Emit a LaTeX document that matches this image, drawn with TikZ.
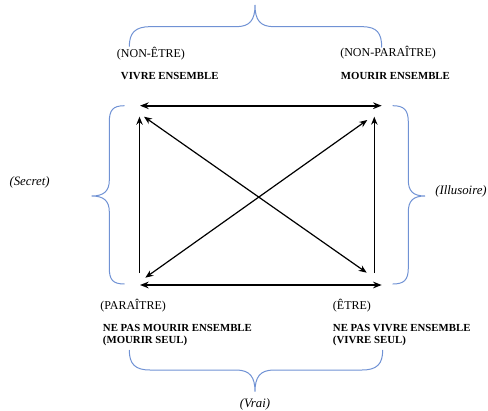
\documentclass[tikz,border=0pt]{standalone}
\usepackage{fontspec}
\setmainfont{Liberation Serif}
\usetikzlibrary{arrows.meta}
\definecolor{bracecol}{RGB}{112,146,212}
\begin{document}
\begin{tikzpicture}[x=0.75pt,y=-0.75pt,
  arr/.style={draw=black,line width=1.4pt,{Stealth[length=6.5pt,width=5pt]}-{Stealth[length=6.5pt,width=5pt]}},
  varr/.style={draw=black,line width=1.05pt,-{Stealth[length=6pt,width=4.8pt]}},
  darr/.style={draw=black,line width=0.9pt,{Stealth[length=6pt,width=4.8pt]}-{Stealth[length=6pt,width=4.8pt]}},
  brace/.style={draw=bracecol,line width=0.75pt},
  lab/.style={anchor=west,inner sep=0pt,font=\fontsize{9}{10}\selectfont},
  blab/.style={anchor=west,inner sep=0pt,align=left,font=\fontsize{8.1}{9.6}\selectfont\bfseries},
  ilab/.style={inner sep=0pt,font=\fontsize{9.6}{11}\selectfont\itshape}]
\useasboundingbox (0,0) rectangle (488,410);
% arrow end points
\coordinate (th1) at (140,105.7);
\coordinate (th2) at (381.7,105.7);
\coordinate (bh1) at (140,285);
\coordinate (bh2) at (381.7,285);
\coordinate (lv1) at (139.5,273);
\coordinate (lv2) at (139.5,116.7);
\coordinate (rv1) at (374.3,273);
\coordinate (rv2) at (374.3,116.7);
\coordinate (d1a) at (144,116.7);
\coordinate (d1b) at (366.7,272.7);
\coordinate (d2a) at (145.3,277.7);
\coordinate (d2b) at (367.3,120);
\draw[arr] (th1) -- (th2);
\draw[arr] (bh1) -- (bh2);
\draw[varr] (lv1) -- (lv2);
\draw[varr] (rv1) -- (rv2);
\draw[darr] (d1a) -- (d1b);
\draw[darr] (d2a) -- (d2b);
% braces
\draw[brace] (129.3,46.7) .. controls (129.3,33) and (135,26.7) .. (150,26.7) -- (236,26.7)
  .. controls (250,26.7) and (255,20) .. (255,5)
  .. controls (255,20) and (260,26.7) .. (274,26.7) -- (362,26.7)
  .. controls (377,26.7) and (381.7,33) .. (381.7,47.5);
\draw[brace] (129.3,350) .. controls (129.3,364) and (135,370) .. (150,370) -- (236,370)
  .. controls (250,370) and (255,377) .. (255,391.7)
  .. controls (255,377) and (260,370) .. (274,370) -- (362,370)
  .. controls (377,370) and (382.7,364) .. (382.7,350);
\draw[brace] (124.5,105.7) .. controls (113,105.7) and (109.3,110) .. (109.3,122) -- (109.3,180)
  .. controls (109.3,191) and (104,196) .. (91.7,196)
  .. controls (104,196) and (109.3,201) .. (109.3,212) -- (109.3,268)
  .. controls (109.3,280) and (113,284) .. (124.5,284);
\draw[brace] (392.7,105.7) .. controls (404,105.7) and (408.3,110) .. (408.3,122) -- (408.3,180)
  .. controls (408.3,191) and (413,196) .. (425,196)
  .. controls (413,196) and (408.3,201) .. (408.3,212) -- (408.3,268)
  .. controls (408.3,280) and (404,284) .. (392.7,284);
% labels
\node[lab] (nonetre) at (116.7,54) {(NON-ÊTRE)};
\node[blab] (vivre) at (120.7,76) {VIVRE ENSEMBLE};
\node[lab] (nonparaitre) at (340,53) {(NON-PARAÎTRE)};
\node[blab] (mourir) at (340.7,76) {MOURIR ENSEMBLE};
\node[lab] (paraitre) at (100,306) {(PARAÎTRE)};
\node[blab] (nepasmourir) at (102.7,335) {NE PAS MOURIR ENSEMBLE\\(MOURIR SEUL)};
\node[lab] (etre) at (332.7,306) {(ÊTRE)};
\node[blab] (nepasvivre) at (332.7,335) {NE PAS VIVRE ENSEMBLE\\(VIVRE SEUL)};
\node[ilab,anchor=west] (secret) at (9.3,182.7) {(Secret)};
\node[ilab,anchor=east] (illusoire) at (487,191.7) {(Illusoire)};
\node[ilab] (vrai) at (255,404) {(Vrai)};
\end{tikzpicture}
\end{document}
